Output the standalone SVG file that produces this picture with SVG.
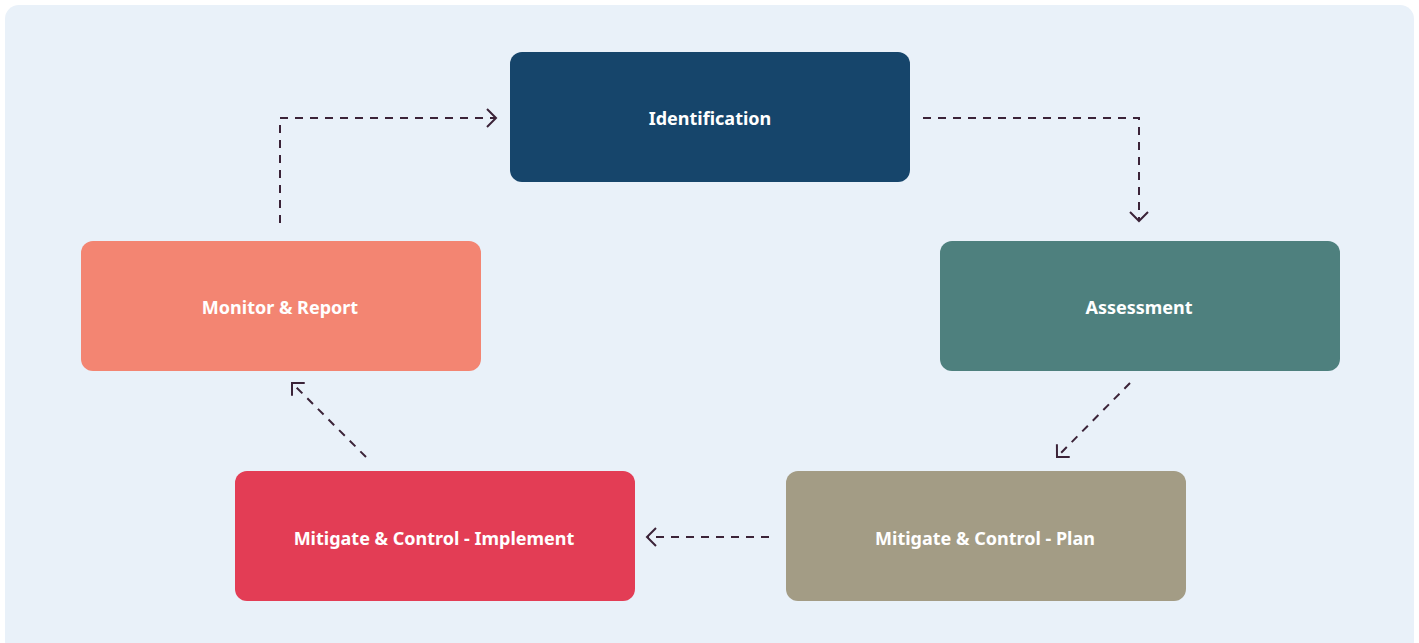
<svg xmlns="http://www.w3.org/2000/svg" width="1419" height="643" viewBox="0 0 1419 643">
<style>
.node text{font-family:"Noto Sans","Liberation Sans",sans-serif;font-weight:700;font-size:18px;fill:#ffffff;text-anchor:middle;dominant-baseline:central}
.conn path{fill:none;stroke:#3b2338;stroke-width:2;stroke-dasharray:8 7;marker-end:url(#arr)}
</style>
<defs>
<marker id="arr" viewBox="0 0 12 22" refX="10" refY="11" markerWidth="12" markerHeight="22" markerUnits="userSpaceOnUse" orient="auto">
<path d="M1,2 L10,11 L1,20" fill="none" stroke="#3b2338" stroke-width="2"/>
</marker>
</defs>
<rect x="5" y="5" width="1409" height="650" rx="14" fill="#e9f1f9"/>
<g id="identification" class="node"><rect x="510" y="52" width="400" height="130" rx="12" fill="#16456b"/><text x="710" y="118">Identification</text></g>
<g id="assessment" class="node"><rect x="940" y="241" width="400" height="130" rx="12" fill="#4e807e"/><text x="1139" y="307">Assessment</text></g>
<g id="plan" class="node"><rect x="786" y="471" width="400" height="130" rx="12" fill="#a39c85"/><text x="985" y="538">Mitigate &amp; Control - Plan</text></g>
<g id="implement" class="node"><rect x="235" y="471" width="400" height="130" rx="12" fill="#e33d55"/><text x="434" y="538">Mitigate &amp; Control - Implement</text></g>
<g id="monitor" class="node"><rect x="81" y="241" width="400" height="130" rx="12" fill="#f38572"/><text x="280" y="307">Monitor &amp; Report</text></g>
<g id="connectors" class="conn">
<path d="M923,118 H1139 V221"/>
<path d="M280,223 V118 H496"/>
<path d="M1130,383 L1057,457"/>
<path d="M769,537 H647"/>
<path d="M366,457 L292,383"/>
</g>
</svg>
